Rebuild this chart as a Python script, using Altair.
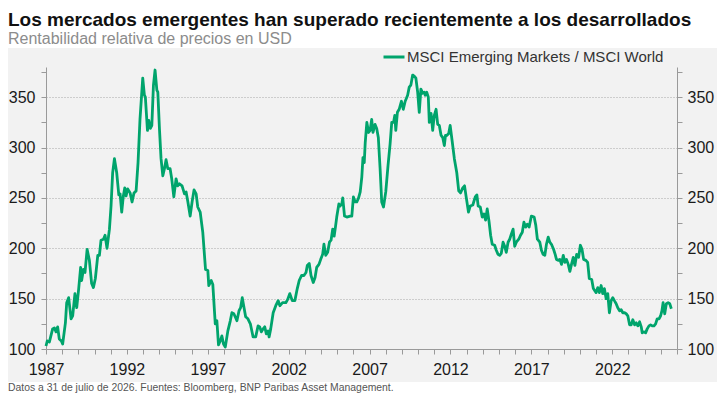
import altair as alt
import pandas as pd

# ---- data ----
years = [
    1987.00, 1987.08, 1987.21, 1987.41, 1987.52, 1987.62, 1987.72, 1987.82, 1987.95, 1988.03,
    1988.20, 1988.28, 1988.40, 1988.55, 1988.65, 1988.79, 1988.90, 1989.02, 1989.14, 1989.20,
    1989.31, 1989.41, 1989.54, 1989.68, 1989.82, 1989.93, 1990.05, 1990.20, 1990.30, 1990.40,
    1990.55, 1990.65, 1990.77, 1990.92, 1991.02, 1991.12, 1991.23, 1991.37, 1991.50, 1991.58,
    1991.68, 1991.78, 1991.87, 1991.95, 1992.05, 1992.20, 1992.32, 1992.44, 1992.57, 1992.69,
    1992.81, 1992.98, 1993.08, 1993.14, 1993.27, 1993.35, 1993.45, 1993.54, 1993.64, 1993.74,
    1993.85, 1993.91, 1994.01, 1994.11, 1994.22, 1994.32, 1994.42, 1994.53, 1994.67, 1994.77,
    1994.90, 1995.04, 1995.14, 1995.25, 1995.41, 1995.56, 1995.66, 1995.76, 1995.91, 1996.03,
    1996.15, 1996.28, 1996.38, 1996.53, 1996.69, 1996.86, 1997.00, 1997.06, 1997.21, 1997.31,
    1997.46, 1997.56, 1997.66, 1997.77, 1997.87, 1997.97, 1998.08, 1998.24, 1998.39, 1998.49,
    1998.61, 1998.72, 1998.80, 1998.93, 1999.03, 1999.13, 1999.24, 1999.34, 1999.48, 1999.63,
    1999.80, 1999.96, 2000.11, 2000.21, 2000.31, 2000.42, 2000.52, 2000.62, 2000.73, 2000.79,
    2000.89, 2001.04, 2001.20, 2001.35, 2001.45, 2001.62, 2001.82, 2001.93, 2002.07, 2002.22,
    2002.38, 2002.53, 2002.65, 2002.80, 2002.94, 2003.07, 2003.15, 2003.27, 2003.38, 2003.52,
    2003.63, 2003.73, 2003.87, 2003.98, 2004.10, 2004.18, 2004.29, 2004.41, 2004.52, 2004.62,
    2004.72, 2004.81, 2004.89, 2004.97, 2005.10, 2005.18, 2005.28, 2005.34, 2005.45, 2005.59,
    2005.80, 2005.90, 2006.00, 2006.11, 2006.21, 2006.32, 2006.42, 2006.52, 2006.59, 2006.67,
    2006.73, 2006.83, 2006.94, 2007.03, 2007.13, 2007.21, 2007.34, 2007.44, 2007.54, 2007.65,
    2007.75, 2007.86, 2008.00, 2008.14, 2008.27, 2008.37, 2008.48, 2008.56, 2008.62, 2008.72,
    2008.83, 2008.97, 2009.08, 2009.20, 2009.35, 2009.45, 2009.55, 2009.66, 2009.76, 2009.86,
    2009.97, 2010.07, 2010.17, 2010.28, 2010.38, 2010.44, 2010.53, 2010.63, 2010.69, 2010.80,
    2010.90, 2011.00, 2011.11, 2011.21, 2011.31, 2011.42, 2011.52, 2011.62, 2011.69, 2011.77,
    2011.89, 2011.98, 2012.10, 2012.24, 2012.39, 2012.51, 2012.62, 2012.76, 2012.87, 2012.97,
    2013.11, 2013.22, 2013.38, 2013.53, 2013.63, 2013.71, 2013.84, 2013.96, 2014.07, 2014.17,
    2014.27, 2014.38, 2014.48, 2014.58, 2014.73, 2014.83, 2014.94, 2015.04, 2015.14, 2015.25,
    2015.35, 2015.45, 2015.56, 2015.66, 2015.76, 2015.87, 2015.97, 2016.07, 2016.22, 2016.33,
    2016.44, 2016.54, 2016.65, 2016.75, 2016.86, 2017.00, 2017.17, 2017.27, 2017.37, 2017.52,
    2017.62, 2017.72, 2017.83, 2017.93, 2018.04, 2018.14, 2018.24, 2018.37, 2018.47, 2018.55,
    2018.68, 2018.76, 2018.86, 2018.97, 2019.07, 2019.17, 2019.28, 2019.38, 2019.48, 2019.59,
    2019.69, 2019.80, 2019.92, 2020.03, 2020.13, 2020.23, 2020.37, 2020.48, 2020.58, 2020.73,
    2020.83, 2021.00, 2021.10, 2021.20, 2021.31, 2021.41, 2021.51, 2021.62, 2021.72, 2021.82,
    2021.93, 2022.03, 2022.13, 2022.24, 2022.34, 2022.45, 2022.55, 2022.65, 2022.76, 2022.86,
    2022.96, 2023.07, 2023.17, 2023.27, 2023.38, 2023.48, 2023.58, 2023.69, 2023.79, 2023.85,
    2023.96, 2024.06, 2024.16, 2024.27, 2024.37, 2024.47, 2024.58, 2024.68, 2024.78, 2024.89,
    2024.99, 2025.07, 2025.14, 2025.24, 2025.34, 2025.45, 2025.55, 2025.65,
]
ratio = [
    103, 108, 107, 120, 121, 117, 122, 110, 108, 105,
    126, 146, 151, 130, 133, 155, 141, 160, 181, 168,
    179, 176, 199, 188, 165, 161, 170, 193, 193, 208,
    209, 213, 200, 219, 242, 275, 289, 275, 253, 254,
    236, 252, 260, 252, 259, 255, 246, 255, 257, 285,
    328, 369, 352, 350, 317, 327, 319, 322, 362, 377,
    357, 355, 319, 289, 272, 279, 288, 279, 279, 269,
    251, 269, 262, 264, 262, 254, 256, 247, 232, 246,
    258, 254, 241, 236, 216, 179, 178, 163, 168, 164,
    125, 128, 104, 108, 113, 105, 102, 118, 128, 136,
    135, 131, 128, 138, 141, 151, 141, 132, 130, 125,
    112, 112, 123, 122, 117, 120, 122, 115, 118, 112,
    120, 136, 143, 148, 143, 146, 146, 149, 155, 148,
    148, 160, 168, 173, 173, 176, 183, 185, 173, 166,
    171, 181, 184, 189, 194, 204, 193, 196, 206, 208,
    219, 212, 221, 231, 244, 242, 244, 250, 232, 231,
    232, 232, 251, 246, 246, 250, 256, 271, 290, 285,
    305, 325, 315, 317, 328, 315, 323, 319, 310, 279,
    246, 241, 256, 282, 304, 325, 325, 332, 317, 335,
    338, 346, 338, 346, 352, 360, 362, 372, 371, 369,
    355, 335, 358, 354, 355, 352, 355, 350, 325, 334,
    317, 332, 338, 323, 322, 312, 310, 302, 312, 312,
    314, 322, 307, 289, 275, 257, 255, 260, 262, 251,
    236, 242, 243, 251, 253, 242, 241, 231, 234, 228,
    239, 227, 213, 204, 203, 198, 194, 193, 195, 206,
    202, 196, 206, 209, 214, 219, 202, 206, 209, 213,
    216, 226, 221, 224, 221, 232, 231, 223, 209, 206,
    198, 194, 193, 204, 211, 206, 204, 199, 194, 189,
    188, 189, 184, 193, 186, 189, 184, 177, 184, 191,
    183, 194, 191, 203, 199, 189, 188, 186, 170, 169,
    160, 156, 161, 156, 163, 155, 160, 150, 155, 136,
    148, 151, 148, 145, 141, 138, 139, 136, 136, 135,
    133, 124, 124, 129, 124, 126, 123, 127, 122, 116,
    117, 116, 120, 123, 124, 123, 123, 125, 130, 130,
    133, 138, 146, 135, 145, 146, 145, 140,
]
series_name = "MSCI Emerging Markets / MSCI World"
y_ticks = [100, 125, 150, 175, 200, 225, 250, 275, 300, 325, 350, 375]
x_tick_years = list(range(1987, 2027))

title_text = "Los mercados emergentes han superado recientemente a los desarrollados"
subtitle_text = "Rentabilidad relativa de precios en USD"
footer_text = "Datos a 31 de julio de 2026. Fuentes: Bloomberg, BNP Paribas Asset Management."

# ---- build table ----
def to_date(y):
    base = pd.Timestamp(int(y), 1, 1)
    return (base + pd.Timedelta(days=(y - int(y)) * 365.25)).strftime("%Y-%m-%dT%H:%M:%S")

df = pd.DataFrame({
    "date": [to_date(y) for y in years],
    "value": ratio,
    "series": series_name,
})

FONT = "Liberation Sans"
GREEN = "#00A46C"
GRAY_BG = "#f2f2f2"
AXIS_GRAY = "#9a9a9a"

# plot area and padding (whole svg = 709 x 386, fits the page)
W, H = 631, 282
PL, PT, PR, PB = 38, 59, 40, 45
PANEL_TOP = -19      # grey panel starts here (relative to plot top)
PANEL_BOTTOM = 315   # grey panel ends here

x_enc = alt.X(
    "date:T",
    title=None,
    scale=alt.Scale(domain=[alt.DateTime(year=1987, month=1, date=1),
                            alt.DateTime(year=2026, month=1, date=1)]),
    axis=alt.Axis(
        values=[alt.DateTime(year=yy, month=1, date=1) for yy in x_tick_years],
        labelExpr="(year(datum.value) - 1987) % 5 == 0 ? timeFormat(datum.value, '%Y') : ''",
        grid=False,
        domainColor=AXIS_GRAY,
        tickColor=AXIS_GRAY,
        tickSize=5,
        labelFont=FONT,
        labelFontSize=16,
        labelColor="#1a1a1a",
        labelPadding=7,
        labelFlush=False,
        labelOverlap=False,
    ),
)

y_scale = alt.Scale(domain=[100, 380], nice=False, zero=False)

def y_axis(orient, grid):
    kw = dict(
        values=y_ticks,
        labelExpr="datum.value % 50 == 0 ? datum.label : ''",
        orient=orient,
        domainColor=AXIS_GRAY,
        tickColor=AXIS_GRAY,
        tickSize=5,
        labelFont=FONT,
        labelFontSize=16,
        labelColor="#1a1a1a",
        labelPadding=6 if orient == "left" else 5,
        labelFlush=False,
        grid=grid,
    )
    if grid:
        kw.update(
            gridColor="#a8a8a8",
            gridDash=[1, 2],
            gridWidth=1,
            gridOpacity={"condition": {"test": "datum.value % 50 == 0 && datum.value > 100 && datum.value < 375", "value": 1}, "value": 0},
        )
    return alt.Axis(**kw)

one = alt.Data(values=[{"k": 1}])

# white bands above and below the grey panel (chart background is the grey panel)
title_band = alt.Chart(one).mark_rect(color="white").encode(
    x=alt.value(-PL), x2=alt.value(W + PR), y=alt.value(-PT), y2=alt.value(PANEL_TOP)
)
footer_band = alt.Chart(one).mark_rect(color="white").encode(
    x=alt.value(-PL), x2=alt.value(W + PR), y=alt.value(PANEL_BOTTOM), y2=alt.value(H + PB)
)

line = alt.Chart(df).mark_line(strokeWidth=2.8, strokeJoin="round").encode(
    x=x_enc,
    y=alt.Y("value:Q", title=None, scale=y_scale, axis=y_axis("left", True)),
    color=alt.Color(
        "series:N",
        scale=alt.Scale(range=[GREEN]),
        legend=alt.Legend(
            title=None,
            orient="none",
            legendX=336,
            legendY=-22,
            symbolType="stroke",
            symbolSize=441,
            symbolStrokeWidth=3,
            labelFont=FONT,
            labelFontSize=15,
            labelColor="#333333",
            labelOffset=1,
            labelLimit=0,
            padding=0,
        ),
    ),
)

line_right = alt.Chart(df).mark_line(strokeOpacity=0).encode(
    x=x_enc,
    y=alt.Y("value:Q", title=None, scale=y_scale, axis=y_axis("right", False)),
)

title_mark = alt.Chart(one).mark_text(
    align="left", baseline="alphabetic", font=FONT, fontSize=19, fontWeight="bold", color="#111111"
).encode(x=alt.value(-PL), y=alt.value(-41), text=alt.value(title_text))

subtitle_mark = alt.Chart(one).mark_text(
    align="left", baseline="alphabetic", font=FONT, fontSize=16, color="#8c8c8c"
).encode(x=alt.value(-PL), y=alt.value(-23), text=alt.value(subtitle_text))

footer = alt.Chart(one).mark_text(
    align="left", baseline="alphabetic", font=FONT, fontSize=10.4, color="#555555"
).encode(x=alt.value(-PL), y=alt.value(324), text=alt.value(footer_text))

chart = alt.layer(
    title_band, footer_band, line, line_right, title_mark, subtitle_mark, footer
).resolve_axis(
    y="independent"
).properties(
    width=W,
    height=H,
    padding={"left": PL, "top": PT, "right": PR, "bottom": PB},
    autosize=alt.AutoSizeParams(type="none"),
    background=GRAY_BG,
).configure_view(stroke=None)

chart.save("out.html", embed_options={"renderer": "svg", "actions": False})
